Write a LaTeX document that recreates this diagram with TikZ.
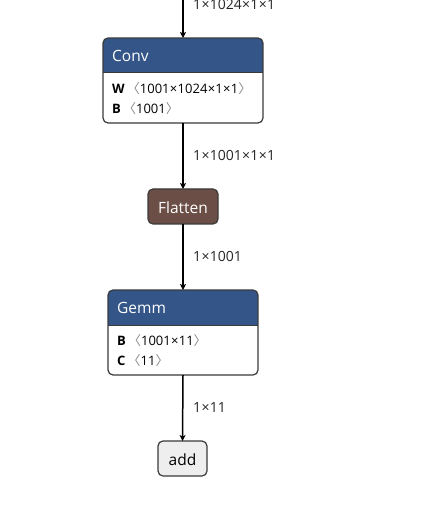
\documentclass[tikz,border=0pt]{standalone}
\usepackage{fontspec}
\setmainfont{Open Sans}
\newfontfamily\brk{Noto Sans CJK SC}
\usetikzlibrary{arrows.meta}
\definecolor{layerblue}{HTML}{335588}
\definecolor{shapebrown}{HTML}{6B4E46}
\definecolor{addfill}{HTML}{EEEEEE}
\definecolor{boxborder}{HTML}{3A3A3A}
\definecolor{brkgray}{HTML}{888888}
\newcommand{\lb}{{\color{brkgray}\brk 〈}}
\newcommand{\rb}{{\color{brkgray}\brk 〉}}
\newcommand{\tm}{\kern0.3pt×\kern0.3pt}
\tikzset{
  box/.style={draw=boxborder, line width=1.2pt, rounded corners=5pt, inner sep=0pt, outer sep=0pt},
  hdr/.style={anchor=west, text=white, font=\fontsize{15.5}{17}\selectfont, inner sep=0pt},
  attr/.style={anchor=west, font=\fontsize{13}{15}\selectfont, inner sep=0pt},
  elabel/.style={anchor=west, font=\fontsize{14}{16}\selectfont, text=black!85, inner sep=0pt},
  edge/.style={line width=1.5pt, -{Stealth[length=6pt,width=6pt,inset=1.5pt]}}
}
\begin{document}
\begin{tikzpicture}[x=1pt,y=-1pt]
\useasboundingbox (0,0) rectangle (430,526);
% Conv
\begin{scope}
\clip[rounded corners=5pt] (103,38) rectangle (263,123);
\fill[white] (103,38) rectangle (263,123);
\fill[layerblue] (103,38) rectangle (263,73);
\end{scope}
\draw[boxborder, line width=1pt] (103,73) -- (263,73);
\node[box, minimum width=160pt, minimum height=85pt] (conv) at (183,80.5) {};
\node[hdr] (convt) at (112,56) {Conv};
\node[attr] (convw) at (112,88.5) {\textbf{W}\,\lb1001\tm1024\tm1\tm1\rb};
\node[attr] (convb) at (112,108.5) {\textbf{B}\,\lb1001\rb};
% Flatten
\node[box, fill=shapebrown, minimum width=70pt, minimum height=35pt] (flat) at (183,206.5) {};
\node[text=white, font=\fontsize{15.5}{17}\selectfont, inner sep=0pt] (flatt) at (183,207.5) {Flatten};
% Gemm
\begin{scope}
\clip[rounded corners=5pt] (108,290) rectangle (258,375);
\fill[white] (108,290) rectangle (258,375);
\fill[layerblue] (108,290) rectangle (258,325);
\end{scope}
\draw[boxborder, line width=1pt] (108,325) -- (258,325);
\node[box, minimum width=150pt, minimum height=85pt] (gemm) at (183,332.5) {};
\node[hdr] (gemmt) at (117,308) {Gemm};
\node[attr] (gemmb) at (117,340.5) {\textbf{B}\,\lb1001\tm11\rb};
\node[attr] (gemmc) at (117,361) {\textbf{C}\,\lb11\rb};
% add
\node[box, fill=addfill, minimum width=49pt, minimum height=35pt] (add) at (182.5,458.5) {};
\node[font=\fontsize{15.5}{17}\selectfont, inner sep=0pt] (addt) at (182.5,459.5) {add};
% edges
\coordinate (top) at (183,-2);
\draw[edge] (top) -- (conv.north);
\draw[edge] (conv.south) -- (flat.north);
\draw[edge] (flat.south) -- (gemm.north);
\draw[edge] (gemm.south) -- (add.north);
\node[elabel] (l0) at (193,4) {1\tm1024\tm1\tm1};
\node[elabel] (l1) at (193,155.5) {1\tm1001\tm1\tm1};
\node[elabel] (l2) at (193,256.5) {1\tm1001};
\node[elabel] (l3) at (193,407.5) {1\tm11};
\end{tikzpicture}
\end{document}
